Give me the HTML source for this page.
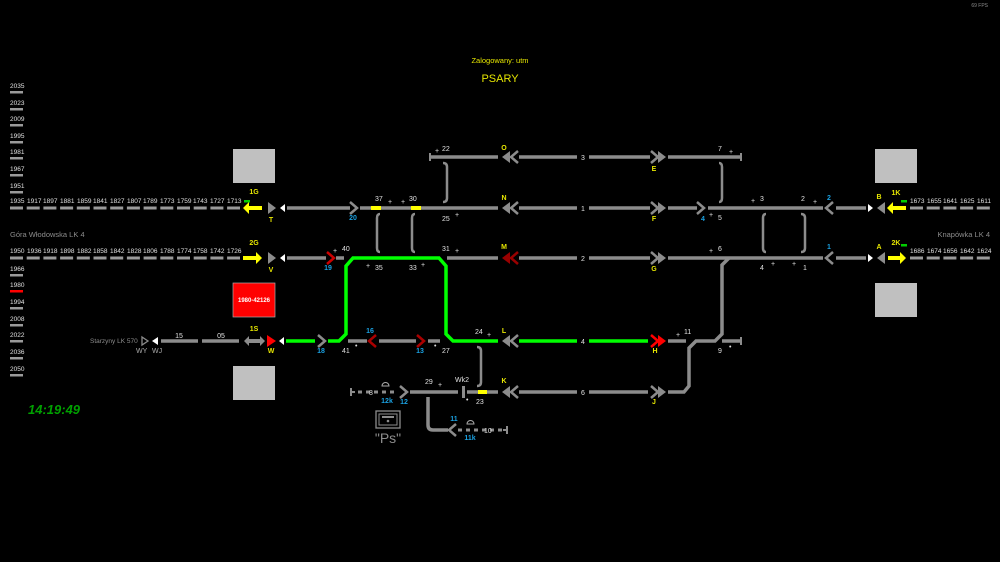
<!DOCTYPE html>
<html><head><meta charset="utf-8"><style>
html,body{margin:0;padding:0;background:#000;}
svg{display:block}
text{font-family:"Liberation Sans",sans-serif;}
.n{fill:#e0e0e0;font-size:7px;}
.b{fill:#1aa0e0;font-size:7px;font-weight:bold;}
.y{fill:#e6e600;font-size:7px;font-weight:bold;}
.g{fill:#8c8c8c;font-size:7.5px;}
.t{stroke:#8c8c8c;stroke-width:3.5;fill:none;}
.gr{stroke:#00ff00;stroke-width:3.5;fill:none;}
.c{stroke:#8c8c8c;stroke-width:2.5;fill:none;}
.bar{fill:#9a9a9a;}
</style></head><body>
<svg width="1000" height="562" viewBox="0 0 1000 562" xmlns="http://www.w3.org/2000/svg">
<rect width="1000" height="562" fill="#000"/>
<text x="988" y="7" class="g" style="font-size:5px" text-anchor="end">69 FPS</text>
<text x="500" y="63" text-anchor="middle" style="fill:#e6e600;font-size:7.5px">Zalogowany: utm</text>
<text x="500" y="82" text-anchor="middle" style="fill:#e6e600;font-size:11px">PSARY</text>

<g class="n" style="font-size:6.5px">
<text x="10" y="88">2035</text><text x="10" y="105">2023</text><text x="10" y="121">2009</text><text x="10" y="138">1995</text>
<text x="10" y="154">1981</text><text x="10" y="171">1967</text><text x="10" y="188">1951</text>
<text x="10" y="271">1966</text><text x="10" y="287">1980</text><text x="10" y="304">1994</text><text x="10" y="321">2008</text>
<text x="10" y="337">2022</text><text x="10" y="354">2036</text><text x="10" y="371">2050</text>
</g>
<g class="bar">
<rect x="10" y="91" width="13" height="2.5"/><rect x="10" y="108" width="13" height="2.5"/><rect x="10" y="124" width="13" height="2.5"/>
<rect x="10" y="141" width="13" height="2.5"/><rect x="10" y="157" width="13" height="2.5"/><rect x="10" y="174" width="13" height="2.5"/>
<rect x="10" y="191" width="13" height="2.5"/>
<rect x="10" y="274" width="13" height="2.5"/><rect x="10" y="290" width="13" height="2.5" fill="#ff0000"/><rect x="10" y="307" width="13" height="2.5"/>
<rect x="10" y="324" width="13" height="2.5"/><rect x="10" y="340" width="13" height="2.5"/><rect x="10" y="357" width="13" height="2.5"/>
<rect x="10" y="374" width="13" height="2.5"/>
</g>

<g class="n" style="font-size:6.5px">
<text x="10" y="203">1935</text><text x="27" y="203">1917</text><text x="43" y="203">1897</text><text x="60" y="203">1881</text><text x="77" y="203">1859</text><text x="93" y="203">1841</text><text x="110" y="203">1827</text><text x="127" y="203">1807</text><text x="143" y="203">1789</text><text x="160" y="203">1773</text><text x="177" y="203">1759</text><text x="193" y="203">1743</text><text x="210" y="203">1727</text><text x="227" y="203">1713</text>
<text x="10" y="253">1950</text><text x="27" y="253">1936</text><text x="43" y="253">1918</text><text x="60" y="253">1898</text><text x="77" y="253">1882</text><text x="93" y="253">1858</text><text x="110" y="253">1842</text><text x="127" y="253">1828</text><text x="143" y="253">1806</text><text x="160" y="253">1788</text><text x="177" y="253">1774</text><text x="193" y="253">1758</text><text x="210" y="253">1742</text><text x="227" y="253">1726</text>
<text x="910" y="203">1673</text><text x="927" y="203">1655</text><text x="943" y="203">1641</text><text x="960" y="203">1625</text><text x="977" y="203">1611</text>
<text x="910" y="253">1686</text><text x="927" y="253">1674</text><text x="943" y="253">1656</text><text x="960" y="253">1642</text><text x="977" y="253">1624</text>
</g>
<g stroke="#9a9a9a" stroke-width="3" stroke-dasharray="13,3.7">
<line x1="10" y1="208" x2="240" y2="208"/><line x1="10" y1="258" x2="240" y2="258"/>
<line x1="910" y1="208" x2="992" y2="208"/><line x1="910" y1="258" x2="992" y2="258"/>
</g>
<text x="10" y="237" class="g">Góra Włodowska LK 4</text>
<text x="990" y="237" class="g" text-anchor="end">Knapówka LK 4</text>

<rect x="233" y="149" width="42" height="34" fill="#c0c0c0"/>
<rect x="233" y="366" width="42" height="34" fill="#c0c0c0"/>
<rect x="875" y="149" width="42" height="34" fill="#c0c0c0"/>
<rect x="875" y="283" width="42" height="34" fill="#c0c0c0"/>
<rect x="233" y="283" width="42" height="34" fill="#ff0000" stroke="#aaa" stroke-width="0.7"/>
<text x="254" y="302" text-anchor="middle" style="fill:#fff;font-size:6px;font-weight:bold">1980-42126</text>

<rect x="244" y="200" width="6" height="2.5" fill="#00cc00"/>
<text x="254" y="194" class="y" text-anchor="middle">1G</text>
<polygon points="243,208 249,202 249,206 262,206 262,210 249,210 249,214" fill="#ffff00"/>
<text x="254" y="245" class="y" text-anchor="middle">2G</text>
<polygon points="262,258 256,252 256,256 243,256 243,260 256,260 256,264" fill="#ffff00"/>
<polygon points="268,202 276,208 268,214" fill="#8c8c8c"/>
<polygon points="268,252 276,258 268,264" fill="#8c8c8c"/>
<polygon points="285,204 280,208 285,212" fill="#fff"/>
<polygon points="285,254 280,258 285,262" fill="#fff"/>
<text x="271" y="222" class="y" text-anchor="middle">T</text>
<text x="271" y="272" class="y" text-anchor="middle">V</text>

<rect x="901" y="200" width="6" height="2.5" fill="#00cc00"/>
<rect x="901" y="244" width="6" height="2.5" fill="#00cc00"/>
<text x="896" y="195" class="y" text-anchor="middle">1K</text>
<text x="896" y="245" class="y" text-anchor="middle">2K</text>
<polygon points="887,208 893,202 893,206 906,206 906,210 893,210 893,214" fill="#ffff00"/>
<polygon points="906,258 900,252 900,256 888,256 888,260 900,260 900,264" fill="#ffff00"/>
<polygon points="885,202 877,208 885,214" fill="#8c8c8c"/>
<polygon points="885,252 877,258 885,264" fill="#8c8c8c"/>
<polygon points="868,204 873,208 868,212" fill="#fff"/>
<polygon points="868,254 873,258 868,262" fill="#fff"/>
<text x="879" y="199" class="y" text-anchor="middle">B</text>
<text x="879" y="249" class="y" text-anchor="middle">A</text>

<path class="t" d="M430,157 H498"/>
<path d="M430,153 V161" stroke="#8c8c8c" stroke-width="2"/>
<path class="t" d="M519,157 H577 M589,157 H650 M668,157 H740"/>
<path d="M741,153 V161" stroke="#8c8c8c" stroke-width="2"/>
<text x="435" y="153" class="n">+</text><text x="442" y="151" class="n">22</text>
<text x="504" y="150" class="y" text-anchor="middle">O</text>
<text x="583" y="160" class="n" text-anchor="middle">3</text>
<text x="654" y="171" class="y" text-anchor="middle">E</text>
<text x="718" y="151" class="n">7</text><text x="729" y="154" class="n">+</text>

<path class="t" d="M287,208 H350 M360,208 H498 M519,208 H577 M589,208 H650 M668,208 H697 M708,208 H823 M836,208 H866"/>
<rect x="371" y="206" width="10" height="4" fill="#ffff00"/>
<rect x="411" y="206" width="10" height="4" fill="#ffff00"/>
<text x="375" y="201" class="n">37</text><text x="388" y="204" class="n">+</text><text x="401" y="204" class="n">+</text><text x="409" y="201" class="n">30</text>
<text x="442" y="221" class="n">25</text><text x="455" y="217" class="n">+</text>
<text x="353" y="220" class="b" text-anchor="middle">20</text>
<text x="504" y="200" class="y" text-anchor="middle">N</text>
<text x="583" y="211" class="n" text-anchor="middle">1</text>
<text x="654" y="221" class="y" text-anchor="middle">F</text>
<text x="703" y="221" class="b" text-anchor="middle">4</text><text x="709" y="217" class="n">+</text><text x="718" y="220" class="n">5</text>
<text x="751" y="203" class="n">+</text><text x="760" y="201" class="n">3</text>
<text x="801" y="201" class="n">2</text><text x="813" y="204" class="n">+</text>
<text x="829" y="200" class="b" text-anchor="middle">2</text>

<path class="t" d="M287,258 H326 M336,258 H344 M447,258 H498 M519,258 H577 M589,258 H650 M668,258 H717 M717,258 L726,258 H823 M836,258 H866"/>
<path class="t" d="M729,258 L722,265 V334 L715,341 H696 L689,348 V386 L684,392 H668"/>
<text x="328" y="270" class="b" text-anchor="middle">19</text>
<text x="333" y="253" class="n">+</text><text x="342" y="251" class="n">40</text>
<text x="366" y="268" class="n">+</text><text x="375" y="270" class="n">35</text>
<text x="409" y="270" class="n">33</text><text x="421" y="267" class="n">+</text>
<text x="442" y="251" class="n">31</text><text x="455" y="253" class="n">+</text>
<text x="504" y="249" class="y" text-anchor="middle">M</text>
<text x="583" y="261" class="n" text-anchor="middle">2</text>
<text x="654" y="271" class="y" text-anchor="middle">G</text>
<text x="709" y="253" class="n">+</text><text x="718" y="251" class="n">6</text>
<text x="760" y="270" class="n">4</text><text x="771" y="266" class="n">+</text><text x="792" y="266" class="n">+</text><text x="803" y="270" class="n">1</text>
<text x="829" y="249" class="b" text-anchor="middle">1</text>

<g class="c">
<path d="M443,163 Q447,163 447,167 V198 Q447,202 443,202"/>
<path d="M380,214 Q377,214 377,218 V248 Q377,252 380,252"/>
<path d="M415,214 Q412,214 412,218 V248 Q412,252 415,252"/>
<path d="M719,163 Q722,163 722,167 V198 Q722,202 719,202"/>
<path d="M766,214 Q763,214 763,218 V248 Q763,252 766,252"/>
<path d="M801,214 Q805,214 805,218 V248 Q805,252 801,252"/>
<path d="M477,347 Q481,347 481,351 V382 Q481,386 477,386"/>
</g>

<text x="90" y="343" class="g" style="font-size:6.5px">Starzyny LK 570</text>
<polygon points="142,337 148,341 142,345" fill="none" stroke="#8c8c8c" stroke-width="1.3"/>
<polygon points="158,337 152,341 158,345" fill="#fff"/>
<text x="136" y="353" class="n" style="fill:#aaa">WY</text><text x="152" y="353" class="n" style="fill:#aaa">WJ</text>
<path class="t" d="M161,341 H198 M202,341 H239"/>
<text x="179" y="338" class="n" text-anchor="middle">15</text>
<text x="221" y="338" class="n" text-anchor="middle">05</text>
<polygon points="244,341 249,336 249,339 260,339 260,336 265,341 260,346 260,343 249,343 249,346" fill="#8c8c8c"/>
<text x="254" y="331" class="y" text-anchor="middle">1S</text>
<polygon points="267,335 276,341 267,347" fill="#ff0000"/>
<polygon points="284,337 279,341 284,345" fill="#fff"/>
<text x="271" y="353" class="y" text-anchor="middle">W</text>
<path class="gr" d="M286,341 H315 M328,341 H339 L346,334 V266 L353,258 H439 L446,266 V334 L453,341 H498 M519,341 H577 M589,341 H648"/>
<text x="321" y="353" class="b" text-anchor="middle">18</text>
<path class="t" d="M348,341 H367 M379,341 H416 M428,341 H440 M668,341 H686 M722,341 H740"/>
<path d="M741,337 V345" stroke="#8c8c8c" stroke-width="2"/>
<text x="342" y="353" class="n">41</text><text x="355" y="348" class="n">•</text>
<text x="370" y="333" class="b" text-anchor="middle">16</text>
<text x="420" y="353" class="b" text-anchor="middle">13</text>
<text x="434" y="348" class="n">•</text><text x="442" y="353" class="n">27</text>
<text x="475" y="334" class="n">24</text><text x="487" y="337" class="n">+</text>
<text x="504" y="333" class="y" text-anchor="middle">L</text>
<text x="583" y="344" class="n" text-anchor="middle">4</text>
<text x="655" y="353" class="y" text-anchor="middle">H</text>
<text x="676" y="337" class="n">+</text><text x="684" y="334" class="n">11</text>
<text x="718" y="353" class="n">9</text><text x="729" y="349" class="n">•</text>

<path d="M351,388 V396 M351,392 H355" stroke="#8c8c8c" stroke-width="2"/>
<path d="M358,392 H398" stroke="#8c8c8c" stroke-width="3" stroke-dasharray="4,4"/>
<path d="M382,386 A3.5,3.5 0 0 1 389,386 Z" fill="none" stroke="#aaa" stroke-width="1"/>
<text x="369" y="395" class="n">8</text>
<text x="387" y="403" class="b" text-anchor="middle">12k</text>
<text x="404" y="404" class="b" text-anchor="middle">12</text>
<path class="t" d="M410,392 H458 M467,392 H498 M519,392 H577 M589,392 H648"/>
<rect x="462" y="386" width="3" height="12" fill="#8c8c8c"/>
<rect x="478" y="390" width="9" height="4" fill="#ffff00"/>
<text x="425" y="384" class="n">29</text><text x="438" y="387" class="n">+</text>
<text x="455" y="382" class="n">Wk2</text>
<text x="466" y="402" class="n">•</text><text x="476" y="404" class="n">23</text>
<text x="504" y="383" class="y" text-anchor="middle">K</text>
<text x="583" y="395" class="n" text-anchor="middle">6</text>
<text x="654" y="404" class="y" text-anchor="middle">J</text>

<path class="t" d="M428,397 V425 Q428,430 433,430 H448"/>
<path d="M458,430 H505" stroke="#8c8c8c" stroke-width="3" stroke-dasharray="4,4"/>
<path d="M507,426 V434 M503,430 H507" stroke="#8c8c8c" stroke-width="2"/>
<path d="M467,424 A3.5,3.5 0 0 1 474,424 Z" fill="none" stroke="#aaa" stroke-width="1"/>
<text x="454" y="421" class="b" text-anchor="middle">11</text>
<text x="470" y="440" class="b" text-anchor="middle">11k</text>
<text x="484" y="433" class="n">10</text>

<g class="c">
<polyline points="350,202 357,208 350,214"/>
<polyline points="697,202 704,208 697,214"/>
<polyline points="833,202 826,208 833,214"/>
<polyline points="833,252 826,258 833,264"/>
<polyline points="318,335 325,341 318,347"/>
<polyline points="400,386 407,392 400,398"/>
<polyline points="456,424 449,430 456,436"/>
<polyline points="327,252 334,258 327,264" stroke="#cc0000"/>
<polyline points="376,335 369,341 376,347" stroke="#aa0000"/>
<polyline points="417,335 424,341 417,347" stroke="#aa0000"/>
</g>
<g>
<g fill="#8c8c8c" stroke="#8c8c8c">
<polygon points="502,157 510,151 510,163" stroke="none"/><polyline points="518,151 511,157 518,163" fill="none" stroke-width="2.5"/>
<polygon points="502,208 510,202 510,214" stroke="none"/><polyline points="518,202 511,208 518,214" fill="none" stroke-width="2.5"/>
<polygon points="502,341 510,335 510,347" stroke="none"/><polyline points="518,335 511,341 518,347" fill="none" stroke-width="2.5"/>
<polygon points="502,392 510,386 510,398" stroke="none"/><polyline points="518,386 511,392 518,398" fill="none" stroke-width="2.5"/>
</g>
<g fill="#990000" stroke="#990000">
<polygon points="502,258 510,252 510,264" stroke="none"/><polyline points="518,252 511,258 518,264" fill="none" stroke-width="2.5"/>
</g>
<g fill="#8c8c8c" stroke="#8c8c8c">
<polyline points="651,151 658,157 651,163" fill="none" stroke-width="2.5"/><polygon points="666,157 658,151 658,163" stroke="none"/>
<polyline points="651,202 658,208 651,214" fill="none" stroke-width="2.5"/><polygon points="666,208 658,202 658,214" stroke="none"/>
<polyline points="651,252 658,258 651,264" fill="none" stroke-width="2.5"/><polygon points="666,258 658,252 658,264" stroke="none"/>
<polyline points="651,386 658,392 651,398" fill="none" stroke-width="2.5"/><polygon points="666,392 658,386 658,398" stroke="none"/>
</g>
<g fill="#ff0000" stroke="#ff0000">
<polyline points="651,335 658,341 651,347" fill="none" stroke-width="2.5"/><polygon points="666,341 658,335 658,347" stroke="none"/>
</g>
</g>

<rect x="376" y="411" width="24" height="17" fill="none" stroke="#8c8c8c" stroke-width="1.3"/>
<rect x="379" y="414" width="18" height="11" fill="none" stroke="#8c8c8c" stroke-width="1"/>
<rect x="382" y="416" width="12" height="2" fill="#8c8c8c"/>
<circle cx="388" cy="421" r="1.3" fill="#8c8c8c"/>
<text x="388" y="443" text-anchor="middle" style="fill:#8c8c8c;font-size:14px">"Ps"</text>

<text x="28" y="414" style="fill:#00a000;font-size:13px;font-weight:bold;font-style:italic">14:19:49</text>
</svg>
</body></html>
